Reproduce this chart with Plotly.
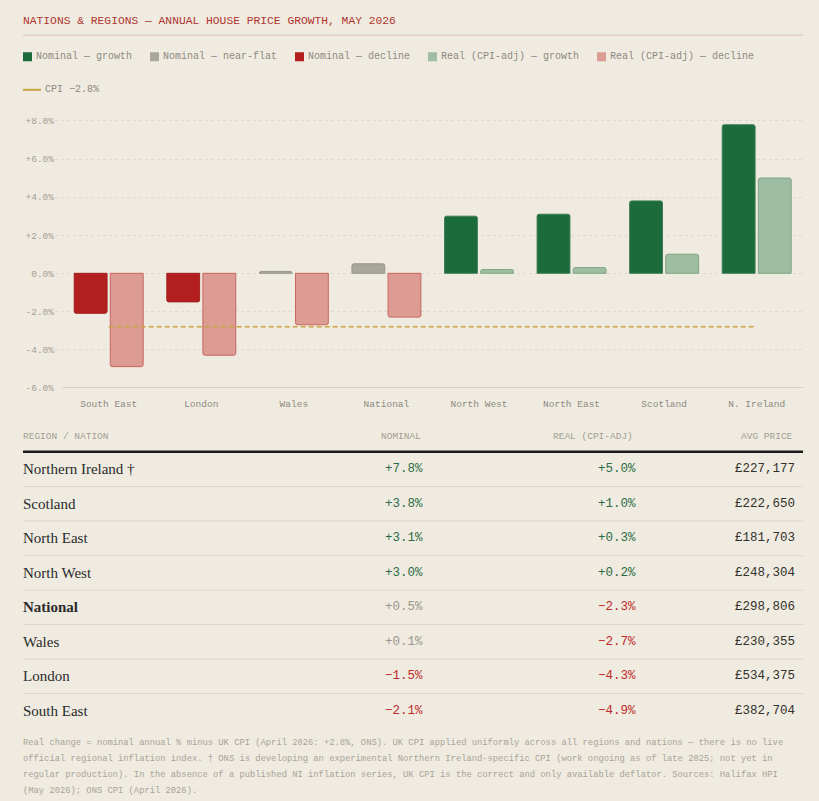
import plotly.graph_objects as go

W, H = 819, 801
BG = "#EFEBE1"
MONO = "Liberation Mono, DejaVu Sans Mono, monospace"
SERIF = "Liberation Serif, DejaVu Serif, serif"

# ---------------- data ----------------
categories = ["South East", "London", "Wales", "National",
              "North West", "North East", "Scotland", "N. Ireland"]
table_names = ["South East", "London", "Wales", "National",
               "North West", "North East", "Scotland", "Northern Ireland †"]
nominal = [-2.1, -1.5, 0.1, 0.5, 3.0, 3.1, 3.8, 7.8]
real = [-4.9, -4.3, -2.7, -2.3, 0.2, 0.3, 1.0, 5.0]
avg_price = [382704, 534375, 230355, 298806, 248304, 181703, 222650, 227177]
cpi_value = -2.8

tick_vals = [-6, -4, -2, 0, 2, 4, 6, 8]
tick_labels = ["-6.0%", "-4.0%", "-2.0%", "0.0%", "+2.0%", "+4.0%", "+6.0%", "+8.0%"]

legend_labels = ["Nominal — growth", "Nominal — near-flat", "Nominal — decline",
                 "Real (CPI-adj) — growth", "Real (CPI-adj) — decline"]
cpi_legend_label = "CPI −2.8%"
title_text = "NATIONS &amp; REGIONS — ANNUAL HOUSE PRICE GROWTH, MAY 2026"
table_headers = ["REGION / NATION", "NOMINAL", "REAL (CPI-ADJ)", "AVG PRICE"]
footnote_lines = [
    "Real change = nominal annual % minus UK CPI (April 2026: +2.8%, ONS). UK CPI applied uniformly across all regions and nations — there is no live",
    "official regional inflation index. † ONS is developing an experimental Northern Ireland-specific CPI (work ongoing as of late 2025; not yet in",
    "regular production). In the absence of a published NI inflation series, UK CPI is the correct and only available deflator. Sources: Halifax HPI",
    "(May 2026); ONS CPI (April 2026).",
]

# ---------------- styles ----------------
C_NOM_GROW = "#1B6B3B"
C_NOM_FLAT = "#A9A69C"
C_NOM_DECL = "#B31F1E"
C_REAL_GROW = "#9FBDA0"
C_REAL_DECL = "#DC9C93"
C_CPI = "#C9A443"
L_NOM_GROW = "#3F7F55"
L_NOM_FLAT = "#98958B"
L_NOM_DECL = "#A32020"
L_REAL_GROW = "#7FA585"
L_REAL_DECL = "#C86561"
T_GREEN = "#2E6B45"
T_GREY = "#9B968B"
T_RED = "#BE2A2A"
LEG_TXT = "#8E897E"


def px(x):
    return x / W


def py(y):
    yy = (y - 1.4) / 0.9887
    return 1 - yy / H


def nom_class(v):
    if v >= 1:
        return 0
    if v > -1:
        return 1
    return 2


nom_fill = [[C_NOM_GROW, C_NOM_FLAT, C_NOM_DECL][nom_class(v)] for v in nominal]
nom_line = [[L_NOM_GROW, L_NOM_FLAT, L_NOM_DECL][nom_class(v)] for v in nominal]
real_fill = [C_REAL_GROW if v > 0 else C_REAL_DECL for v in real]
real_line = [L_REAL_GROW if v > 0 else L_REAL_DECL for v in real]

fig = go.Figure()
fig.add_trace(go.Bar(x=categories, y=nominal, name="Nominal",
                     marker=dict(color=nom_fill, line=dict(color=nom_line, width=1)),
                     showlegend=False, hoverinfo="x+y"))
fig.add_trace(go.Bar(x=categories, y=real, name="Real",
                     marker=dict(color=real_fill, line=dict(color=real_line, width=1)),
                     showlegend=False, hoverinfo="x+y"))
fig.add_trace(go.Scatter(x=categories, y=[cpi_value] * len(categories), mode="lines",
                         line=dict(color=C_CPI, width=1.5, dash="5px,3px"),
                         showlegend=False, hoverinfo="skip"))

shapes = []
annotations = []


def ann_left(text, x, y, size, color, family=MONO):
    annotations.append(dict(text=text, x=px(x - 2), y=py(y), xref="paper", yref="paper",
                            xanchor="left", yanchor="middle", showarrow=False,
                            font=dict(family=family, size=size, color=color)))


def ann_right(text, x, y, size, color, family=MONO):
    annotations.append(dict(text=text, x=px(x + 2), y=py(y), xref="paper", yref="paper",
                            xanchor="right", yanchor="middle", showarrow=False,
                            font=dict(family=family, size=size, color=color)))


def hline(x0, x1, y, color, width):
    shapes.append(dict(type="line", xref="paper", yref="paper", x0=px(x0), x1=px(x1),
                       y0=py(y), y1=py(y), line=dict(color=color, width=width)))


# title
ann_left(title_text, 23, 21, 11.3, "#B0342E")
hline(23, 803, 35.5, "#DDC3B8", 1)

# legend
legend_cols = [C_NOM_GROW, C_NOM_FLAT, C_NOM_DECL, C_REAL_GROW, C_REAL_DECL]
legend_x = [23, 150, 295, 428, 597]
for lx, col, lab in zip(legend_x, legend_cols, legend_labels):
    shapes.append(dict(type="rect", xref="paper", yref="paper",
                       x0=px(lx), x1=px(lx + 9), y0=py(61.5), y1=py(52.5),
                       fillcolor=col, line=dict(width=0)))
    ann_left(lab, lx + 13, 57, 10, LEG_TXT)
hline(23, 41, 90, C_CPI, 2)
ann_left(cpi_legend_label, 45, 90, 10, LEG_TXT)

# baseline of chart
shapes.append(dict(type="line", xref="x", yref="y", x0=-0.5, x1=7.5, y0=-6, y1=-6,
                   line=dict(color="#B9B4A8", width=1), layer="above"))

# table
col_right = [None, 421, 633, 793]
header_y = 436
for i, htxt in enumerate(table_headers):
    if i == 0:
        ann_left(htxt, 23, header_y, 9.5, "#A29D91")
    else:
        ann_right(htxt, col_right[i], header_y, 9.5, "#A29D91")
hline(23, 803, 451, "#1A1A1A", 2.5)

order = sorted(range(len(nominal)), key=lambda i: -nominal[i])
row0, row_h = 468.5, 34.4


def fmt_pct(v):
    s = f"{abs(v):.1f}%"
    return ("+" if v >= 0 else "−") + s


val_right = [None, 423, 636, 795]
for r, i in enumerate(order):
    yc = row0 + r * row_h
    name = table_names[i]
    is_nat = name == "National"
    ann_left(f"<b>{name}</b>" if is_nat else name, 23, yc, 15, "#2A2A2A", SERIF)
    nc = [T_GREEN, T_GREY, T_RED][nom_class(nominal[i])]
    rc = T_GREEN if real[i] > 0 else T_RED
    ann_right(fmt_pct(nominal[i]), val_right[1], yc, 12.5, nc)
    ann_right(fmt_pct(real[i]), val_right[2], yc, 12.5, rc)
    ann_right(f"£{avg_price[i]:,}", val_right[3], yc, 12.5, "#33312C")
    if r < len(order) - 1:
        hline(23, 803, yc + row_h / 2, "#DCD7CB", 1)

# footnote
for k, line in enumerate(footnote_lines):
    ann_left(line, 23, 741 + 16 * k, 8.8, "#A9A396")

fig.update_layout(
    width=W, height=H,
    margin=dict(l=0, r=0, t=0, b=0),
    paper_bgcolor=BG, plot_bgcolor=BG,
    barmode="group", bargap=0.22, bargroupgap=0.09, barcornerradius=2,
    showlegend=False,
    shapes=shapes, annotations=annotations,
    xaxis=dict(domain=[px(55), px(803)], range=[-0.58, 7.5], showgrid=False,
               showline=False, zeroline=False, ticks="", ticklabelstandoff=9,
               tickfont=dict(family=MONO, size=9.5, color="#8E897E"), fixedrange=True),
    yaxis=dict(domain=[py(387), py(117.2)], range=[-6, 8.2], tickvals=tick_vals,
               ticktext=tick_labels, showgrid=True, gridcolor="#DEDAD0", griddash="3px,3px",
               gridwidth=1, zeroline=False, showline=False, ticks="",
               tickfont=dict(family=MONO, size=9.5, color="#A5A093"), fixedrange=True),
)

fig.write_html("out.html")
